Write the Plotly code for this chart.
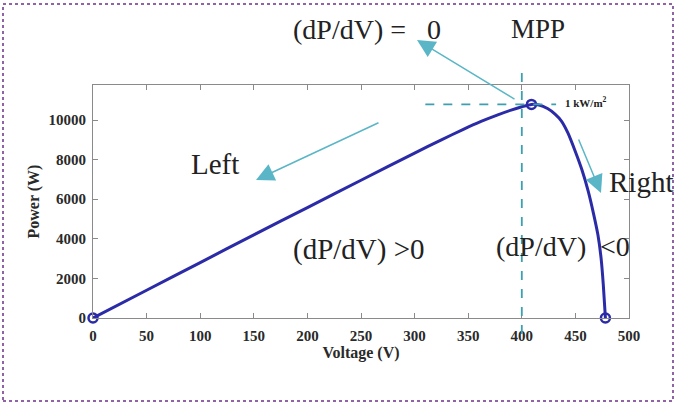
import plotly.graph_objects as go

# ---- data ----
voltage = [0, 50, 100, 150, 200, 250, 300, 325, 345, 362, 377, 390, 400, 409, 416, 424, 431, 437, 443, 450, 456, 462, 467, 471, 474, 476, 478]
power = [0, 1400, 2800, 4200, 5580, 6960, 8330, 9000, 9520, 9930, 10250, 10500, 10670, 10790, 10760, 10580, 10300, 9950, 9350, 8400, 7500, 6400, 5250, 4200, 3000, 1700, 0]
marker_v = [0, 409, 478]
marker_p = [0, 10790, 0]
ref_v = 400          # vertical dashed reference
ref_p = 10790        # horizontal dashed reference
ref_h_start = 310
ref_h_end = 432
x_ticks = [0, 50, 100, 150, 200, 250, 300, 350, 400, 450, 500]
y_ticks = [0, 2000, 4000, 6000, 8000, 10000]

W, H = 676, 406
L, R, T, B = 93, 47, 85, 88
pw, ph = W - L - R, H - T - B

curve_col = "#2b2ba8"
teal = "#5ab6c6"
dash_col = "#3e9fb0"
serif = "Liberation Serif, Times New Roman, serif"

fig = go.Figure()
fig.add_trace(go.Scatter(x=voltage, y=power, mode="lines",
                         line=dict(color=curve_col, width=3, shape="spline", smoothing=0.6),
                         cliponaxis=False, showlegend=False, hoverinfo="skip"))
fig.add_trace(go.Scatter(x=marker_v, y=marker_p, mode="markers",
                         marker=dict(symbol="circle-open", size=9, color=curve_col, line=dict(width=2.5, color=curve_col)),
                         cliponaxis=False, showlegend=False, hoverinfo="skip"))


def py(p):  # pixel y -> paper
    return (H - B - p) / ph


def px(p):
    return (p - L) / pw


shapes = [
    dict(type="line", xref="x", yref="paper", x0=ref_v, x1=ref_v, y0=py(334), y1=py(66),
         line=dict(color=dash_col, width=1.8, dash="dash")),
    dict(type="line", xref="x", yref="y", x0=ref_h_start, x1=ref_h_end, y0=ref_p, y1=ref_p,
         line=dict(color=dash_col, width=1.8, dash="dash")),
    dict(type="rect", xref="paper", yref="paper", x0=px(3), x1=px(673), y0=py(401), y1=py(4),
         line=dict(color="#8e63a8", width=2, dash="dot"), layer="above"),
]

ann = []


def arrow(tail, tip):
    ann.append(dict(xref="paper", yref="paper", axref="pixel", ayref="pixel",
                    x=px(tip[0]), y=py(tip[1]), ax=tail[0] - tip[0], ay=tail[1] - tip[1],
                    text="", showarrow=True, arrowhead=2, arrowsize=2.4, arrowwidth=1.5,
                    arrowcolor=teal, standoff=0, startstandoff=0))


arrow((516, 100), (417, 40))
arrow((380, 122), (256, 180))
arrow((578, 138), (601, 193))


def text(t, x, y, size=28, anchor="left", bold=False, color="#222"):
    ann.append(dict(xref="paper", yref="paper", x=px(x), y=py(y), text=t, showarrow=False,
                    xanchor=anchor, yanchor="middle",
                    font=dict(family=serif, size=size, color=color, weight="bold" if bold else "normal")))


text("(dP/dV) =&nbsp;&nbsp;&nbsp;0", 291, 29)
text("MPP", 509, 29, size=27)
text("Left", 189, 164, size=29)
text("Right", 607, 182, size=29)
text("(dP/dV) >0", 291, 249, size=29)
text("(dP/dV)", 494, 246)
text("<0", 598, 246)
text("1 kW/m<sup>2</sup>", 563, 102, size=11, bold=True)

axis_common = dict(showline=True, linecolor="#8a8a8a", linewidth=1.2, mirror="ticks",
                   ticks="inside", ticklen=5, tickcolor="#8a8a8a", showgrid=False, zeroline=False,
                   tickfont=dict(family=serif, size=15, color="#2a2a2a", weight="bold"))

fig.update_layout(
    width=W, height=H, margin=dict(l=L, r=R, t=T, b=B),
    paper_bgcolor="white", plot_bgcolor="white",
    xaxis=dict(range=[0, 500], tickvals=x_ticks, ticklabelstandoff=4, tickformat="d",
               title=dict(text="Voltage (V)", font=dict(family=serif, size=16, color="#2a2a2a", weight="bold"), standoff=2),
               **axis_common),
    yaxis=dict(range=[0, 11770], tickvals=y_ticks, ticklabelstandoff=3, tickformat="d",
               title=dict(text="Power (W)", font=dict(family=serif, size=16, color="#2a2a2a", weight="bold"), standoff=4),
               **axis_common),
    shapes=shapes, annotations=ann,
)

fig.write_html("out.html", config={"displayModeBar": False},
               post_script="document.body.style.margin='0';document.body.style.overflow='hidden';")
